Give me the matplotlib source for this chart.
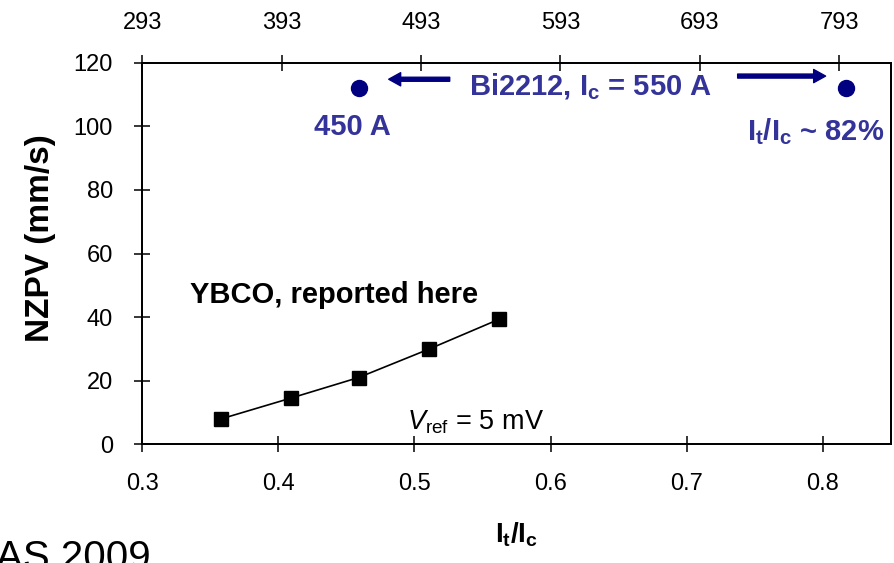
import matplotlib
matplotlib.use("Agg")
import matplotlib.pyplot as plt

plt.rcParams['font.family'] = ['Liberation Sans', 'DejaVu Sans']
plt.rcParams['mathtext.fontset'] = 'custom'
plt.rcParams['mathtext.rm'] = 'Liberation Sans'
plt.rcParams['mathtext.it'] = 'Liberation Sans:italic'
plt.rcParams['mathtext.bf'] = 'Liberation Sans:bold'

# Data
ybco_ratio = [0.358, 0.409, 0.459, 0.511, 0.562]
ybco_nzpv = [8.0, 14.5, 21.0, 30.0, 39.3]
bi_ratio = [0.459, 0.817]
bi_nzpv = [112, 112]
x_ticks = [0.3, 0.4, 0.5, 0.6, 0.7, 0.8]
x_ticklabels = ['0.3', '0.4', '0.5', '0.6', '0.7', '0.8']
top_ticks = [293, 393, 493, 593, 693, 793]
y_ticks = [0, 20, 40, 60, 80, 100, 120]

text_blue = '#333399'
navy = '#000080'

fig = plt.figure(figsize=(8.94, 5.63), dpi=100)
ax = fig.add_axes([0.159, 0.2108, 0.9966 - 0.159, 0.8886 - 0.2108])

ax.plot(ybco_ratio, ybco_nzpv, color='black', lw=1.2, marker='s',
        markersize=10.5, markerfacecolor='black', markeredgecolor='black')
ax.plot(bi_ratio, bi_nzpv, linestyle='none', marker='o', markersize=11.5,
        color=navy)

ax.set_xlim(0.3, 0.85)
ax.set_ylim(0, 120)
ax.set_xticks(x_ticks)
ax.set_xticklabels(x_ticklabels)
ax.set_yticks(y_ticks)

for s in ax.spines.values():
    s.set_linewidth(1.3)

ax.tick_params(axis='x', direction='inout', length=11, width=1.1,
               labelsize=17, pad=15.5, top=False)
ax.tick_params(axis='y', direction='inout', length=12, width=1.1,
               labelsize=17, pad=15, right=False)

ax2 = ax.twiny()
ax2.set_xlim(293, 830)
ax2.set_xticks(top_ticks)
ax2.set_xticklabels([str(t) for t in top_ticks])
ax2.tick_params(axis='x', direction='inout', length=11, width=1.1,
                labelsize=17, pad=15.5)
for s in ax2.spines.values():
    s.set_linewidth(1.3)

# Labels
ax.set_xlabel(r'$\mathbf{I_t/I_c}$', fontsize=20, labelpad=18)
fig.text(41 / 894, 1 - 238.5 / 563, 'NZPV (mm/s)', rotation=90,
         fontsize=24, fontweight='bold', ha='center', va='center')

# Annotations
ax.text(0.5399, 109.8, r'Bi2212, $\mathbf{I_c}$ = 550 A', fontsize=21,
        fontweight='bold', color=text_blue, ha='left', va='baseline')
ax.text(0.426, 97.3, '450 A', fontsize=21, fontweight='bold',
        color=text_blue, ha='left', va='baseline')
ax.text(0.8453, 95.7, r'$\mathbf{I_t/I_c}$ ~ 82%', fontsize=21,
        fontweight='bold', color=text_blue, ha='right', va='baseline')
ax.text(0.3352, 44.4, 'YBCO, reported here', fontsize=21,
        fontweight='bold', color='black', ha='left', va='baseline')
ax.text(0.4942, 4.8, r'$\mathit{V}_\mathrm{ref}$ = 5 mV', fontsize=19.5,
        color='black', ha='left', va='baseline')

arrow_kw = dict(facecolor=navy, edgecolor=navy, width=2.9, headwidth=9.5,
                headlength=8.6, shrink=0)
ax.annotate('', xy=(0.4811, 114.8), xytext=(0.5259, 114.8),
            arrowprops=arrow_kw)
ax.annotate('', xy=(0.8020, 115.8), xytext=(0.7374, 115.8),
            arrowprops=arrow_kw)

fig.text(151 / 894, (563 - 569) / 563, 'AS 2009', fontsize=29,
         ha='right', va='baseline', color='black')

fig.savefig('out.png', dpi=100)
